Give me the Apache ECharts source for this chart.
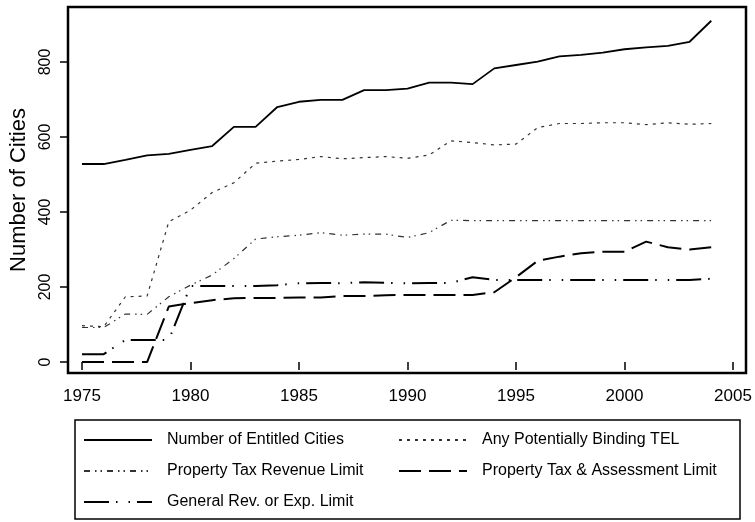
<!DOCTYPE html>
<html>
<head>
<meta charset="utf-8">
<title>Number of Cities</title>
<script src="https://cdn.jsdelivr.net/npm/echarts@6.0.0/dist/echarts.min.js"></script>
<style>
	html, body { margin: 0; padding: 0; background: #fff; }
	#chart { width: 755px; height: 522px; }
</style>
</head>
<body>
<div id="chart"></div>
<script>
'use strict';

// values, one per year
var years = [1975, 1976, 1977, 1978, 1979, 1980, 1981, 1982, 1983, 1984,
	1985, 1986, 1987, 1988, 1989, 1990, 1991, 1992, 1993, 1994,
	1995, 1996, 1997, 1998, 1999, 2000, 2001, 2002, 2003, 2004];
var entitled = [528, 528, 539, 551, 555, 566, 576, 627, 627, 680,
	694, 699, 699, 725, 725, 729, 745, 745, 741, 783,
	792, 801, 815, 819, 825, 834, 839, 843, 854, 910];
var anyTel = [97, 94, 174, 176, 374, 405, 452, 478, 530, 536,
	540, 548, 542, 545, 548, 543, 552, 590, 585, 579,
	581, 625, 636, 636, 638, 638, 633, 638, 634, 636];
var ptRevenue = [92, 92, 128, 127, 174, 205, 232, 276, 328, 334,
	338, 345, 338, 341, 341, 332, 345, 378, 377, 377,
	377, 377, 377, 377, 377, 377, 377, 377, 377, 377];
var ptAssess = [0, 0, 0, 0, 148, 157, 165, 170, 171, 171,
	172, 172, 176, 176, 178, 179, 179, 179, 179, 186,
	226, 270, 281, 290, 294, 294, 321, 306, 300, 306];
var genRev = [21, 21, 59, 59, 59, 203, 203, 203, 203, 205,
	210, 211, 210, 213, 211, 210, 211, 211, 226, 219,
	219, 219, 219, 219, 219, 219, 219, 219, 219, 222];

var xTicks = [1975, 1980, 1985, 1990, 1995, 2000, 2005];
var yTicks = [0, 200, 400, 600, 800];

var names = ['Number of Entitled Cities', 'Any Potentially Binding TEL',
	'Property Tax Revenue Limit', 'Property Tax & Assessment Limit',
	'General Rev. or Exp. Limit'];

function pairs(vals){
	return years.map(function(y, i){ return [y, vals[i]]; });
}

function line(name, vals, width, color, dash){
	return {
		name: name,
		type: 'line',
		data: pairs(vals),
		symbol: 'none',
		showSymbol: false,
		smooth: false,
		animation: false,
		lineStyle: { color: color, width: width, type: dash, cap: 'butt' },
		itemStyle: { color: color }
	};
}

var font = "'Liberation Sans', Arial, sans-serif";

function legendCol(left, data){
	return {
		orient: 'vertical',
		left: left,
		top: 430,
		padding: 0,
		itemWidth: 68,
		itemHeight: 10,
		itemGap: 11,
		selectedMode: false,
		data: data,
		itemStyle: { opacity: 0 },
		textStyle: { fontFamily: font, fontSize: 16, color: '#000', lineHeight: 20, padding: [0, 0, 0, 10] }
	};
}

var myChart = echarts.init(document.getElementById('chart'), null, { renderer: 'canvas' });
myChart.setOption({
	backgroundColor: '#fff',
	animation: false,
	grid: {
		left: 68, top: 7, width: 678, height: 366,
		show: true, borderColor: '#000', borderWidth: 2.5, backgroundColor: '#fff'
	},
	xAxis: {
		type: 'value',
		min: 1974.355,
		max: 2005.6,
		axisLine: { show: false },
		splitLine: { show: false },
		axisTick: { show: true, length: 8, customValues: xTicks, lineStyle: { color: '#000', width: 1.5 } },
		axisLabel: { customValues: xTicks, margin: 15, color: '#000', fontFamily: font, fontSize: 17,
			formatter: function(v){ return String(v); } }
	},
	yAxis: {
		type: 'value',
		min: -29.3,
		max: 946.7,
		name: 'Number of Cities',
		nameLocation: 'middle',
		nameGap: 30,
		nameTextStyle: { color: '#000', fontFamily: font, fontSize: 22 },
		axisLine: { show: false },
		splitLine: { show: false },
		axisTick: { show: true, length: 8, customValues: yTicks, lineStyle: { color: '#000', width: 1.5 } },
		axisLabel: { customValues: yTicks, rotate: 90, margin: 14, color: '#000', fontFamily: font, fontSize: 16,
			formatter: function(v){ return String(v); } }
	},
	legend: [
		legendCol(83, [names[0], names[2], names[4]]),
		legendCol(398, [names[1], names[3]])
	],
	graphic: [{
		type: 'rect',
		shape: { x: 75, y: 420, width: 665, height: 99 },
		style: { fill: 'none', stroke: '#000', lineWidth: 1.5 },
		silent: true
	}],
	series: [
		line(names[0], entitled, 1.8, '#000', 'solid'),
		line(names[1], anyTel, 1.2, '#333', [3, 5]),
		line(names[2], ptRevenue, 1.2, '#333', [6, 5, 1.5, 4, 1.5, 5]),
		line(names[3], ptAssess, 2, '#000', [22, 8]),
		line(names[4], genRev, 2, '#000', [25, 7, 1.5, 11, 1.5, 7])
	]
});
</script>
</body>
</html>
